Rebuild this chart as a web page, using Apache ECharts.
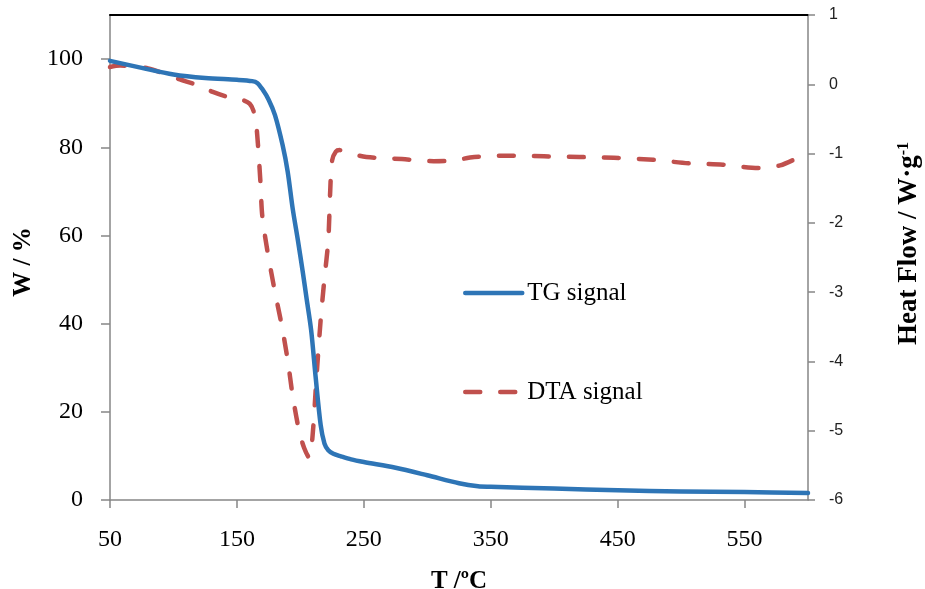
<!DOCTYPE html>
<html>
<head>
<meta charset="utf-8">
<script src="https://cdn.jsdelivr.net/npm/echarts@6/dist/echarts.min.js"></script>
<style>
  html, body { margin: 0; padding: 0; background: #fff; }
  #chart { width: 925px; height: 589px; }
</style>
</head>
<body>
<div id="chart"></div>
<script>
// TG / DTA curves
const tgTemp = [50, 75, 100, 125, 150, 162, 166, 170, 175, 180, 186, 190, 194, 198, 202, 205, 208.5, 212, 216, 219, 222, 226, 232, 240, 250, 275, 300, 325, 340, 350, 400, 450, 500, 550, 600];
const tgMass = [99.6, 98.0, 96.5, 95.7, 95.3, 95.0, 94.6, 93.2, 90.8, 87.3, 80.5, 74.5, 66, 59, 51.5, 45.5, 38.5, 28, 17, 12.8, 11.3, 10.5, 9.9, 9.2, 8.6, 7.3, 5.6, 3.8, 3.1, 3.0, 2.6, 2.2, 1.9, 1.8, 1.6];

const dtaTemp = [50, 58, 68, 80, 92, 105, 117, 131, 144, 155, 160, 163, 165, 166.5, 168.5, 170, 174, 180, 185, 190, 194, 199, 203, 207, 209.5, 213, 216, 219, 222, 223.5, 225, 228, 231, 240, 252, 280, 305, 320, 337, 365, 392, 420, 447, 478, 506, 533, 561, 578, 592, 600];
const dtaHeat = [0.25, 0.27, 0.26, 0.23, 0.16, 0.07, 0.0, -0.11, -0.19, -0.23, -0.28, -0.38, -0.55, -0.85, -1.4, -1.9, -2.4, -3.0, -3.45, -3.98, -4.5, -5.0, -5.25, -5.39, -5.1, -4.15, -3.4, -2.8, -2.25, -1.55, -1.1, -0.97, -0.95, -1.0, -1.05, -1.08, -1.11, -1.1, -1.05, -1.03, -1.04, -1.05, -1.06, -1.09, -1.14, -1.16, -1.21, -1.17, -1.06, -0.98];

const xTicks = [50, 150, 250, 350, 450, 550];
const wTicks = [0, 20, 40, 60, 80, 100];

const serif = "'Palatino Linotype', 'Book Antiqua', Palatino, 'Liberation Serif', serif";
const axisGrey = '#868686';

const chart = echarts.init(document.getElementById('chart'));

const legendBase = {
  left: 458,
  itemWidth: 57,
  itemHeight: 14,
  selectedMode: false,
  itemStyle: { opacity: 0 },
  lineStyle: { width: 4.5, cap: 'round' },
  textStyle: { fontFamily: serif, fontSize: 25, color: '#000', lineHeight: 26 }
};

const option = {
  animation: false,
  grid: { left: 110, right: 117, top: 15, bottom: 89, outerBoundsMode: 'none', containLabel: false },
  legend: [
    Object.assign({ data: ['TG signal'], top: 275 }, legendBase),
    Object.assign({ data: ['DTA signal'], top: 374 }, legendBase)
  ],
  xAxis: [{
    type: 'value',
    min: 50,
    max: 600,
    name: 'T /ºC',
    nameLocation: 'middle',
    nameGap: 69,
    nameTextStyle: { fontFamily: serif, fontSize: 25, fontWeight: 'bold', color: '#000' },
    splitLine: { show: false },
    axisLine: { onZero: false, lineStyle: { color: axisGrey, width: 1.5 } },
    axisTick: { length: 8, lineStyle: { color: axisGrey, width: 1.5 }, customValues: xTicks },
    axisLabel: { fontFamily: serif, fontSize: 24, color: '#000', margin: 28, customValues: xTicks }
  }, {
    type: 'value',
    position: 'top',
    min: 50,
    max: 600,
    splitLine: { show: false },
    axisLine: { onZero: false, lineStyle: { color: '#000', width: 2 } },
    axisTick: { show: false },
    axisLabel: { show: false }
  }],
  yAxis: [{
    type: 'value',
    min: 0,
    max: 110,
    name: 'W / %',
    nameLocation: 'middle',
    nameGap: 74,
    nameTextStyle: { fontFamily: serif, fontSize: 25, fontWeight: 'bold', color: '#000', padding: [0, 9, 0, 0] },
    splitLine: { show: false },
    axisLine: { show: true, onZero: false, lineStyle: { color: axisGrey, width: 1.5 } },
    axisTick: { show: true, length: 9, lineStyle: { color: axisGrey, width: 1.5 }, customValues: wTicks },
    axisLabel: { fontFamily: serif, fontSize: 24, color: '#000', margin: 27, customValues: wTicks }
  }, {
    type: 'value',
    position: 'right',
    min: -6,
    max: 1,
    interval: 1,
    name: '{a|Heat Flow / W·g}{s|-1}',
    nameLocation: 'middle',
    nameRotate: 90,
    nameGap: 88,
    nameTextStyle: {
      padding: [0, 0, 0, 28],
      rich: {
        a: { fontFamily: serif, fontSize: 27, fontWeight: 'bold', color: '#000' },
        s: { fontFamily: serif, fontSize: 16, fontWeight: 'bold', color: '#000', verticalAlign: 'top' }
      }
    },
    splitLine: { show: false },
    axisLine: { show: true, onZero: false, lineStyle: { color: axisGrey, width: 1.5 } },
    axisTick: { show: true, length: 7, lineStyle: { color: axisGrey, width: 1.5 } },
    axisLabel: { fontFamily: "'Liberation Sans', Arial, sans-serif", fontSize: 16, color: '#222', margin: 21 }
  }],
  series: [{
    name: 'TG signal',
    type: 'line',
    yAxisIndex: 0,
    smooth: 0.3,
    symbol: 'none',
    data: tgTemp.map((t, i) => [t, tgMass[i]]),
    itemStyle: { color: '#2E75B6' },
    lineStyle: { color: '#2E75B6', width: 4.5, cap: 'round', join: 'round' },
    z: 3
  }, {
    name: 'DTA signal',
    type: 'line',
    yAxisIndex: 1,
    smooth: 0.3,
    symbol: 'none',
    data: dtaTemp.map((t, i) => [t, dtaHeat[i]]),
    itemStyle: { color: '#C0504D' },
    lineStyle: { color: '#C0504D', width: 4.5, type: [15, 20], cap: 'round', join: 'round' },
    z: 2
  }]
};

chart.setOption(option);
</script>
</body>
</html>
